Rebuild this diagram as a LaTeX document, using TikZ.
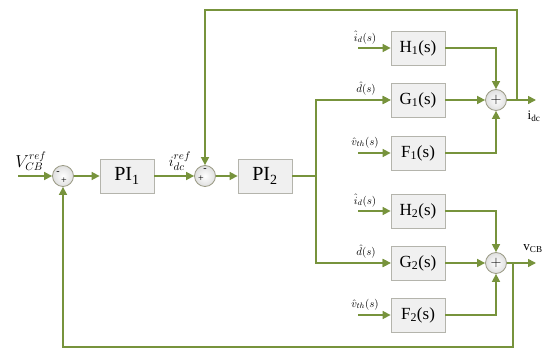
\documentclass[tikz,border=0pt]{standalone}
\usepackage{fontspec}
\setmainfont{Liberation Serif}
\usetikzlibrary{arrows.meta,calc}
\definecolor{lg}{HTML}{77933C}
\definecolor{bxfill}{HTML}{F0F0F0}
\definecolor{bxdraw}{HTML}{B4B4AC}
\definecolor{sumdraw}{HTML}{9A9A84}
\begin{document}
\begin{tikzpicture}[x=1pt,y=-1pt,
  blk/.style={draw=bxdraw, fill=bxfill, line width=0.8pt, minimum width=54pt, minimum height=34pt, inner sep=0pt, font=\fontsize{17}{17}\selectfont},
  pib/.style={blk, font=\fontsize{20}{20}\selectfont},
  sumc/.style={circle, draw=sumdraw, line width=0.8pt, inner color=white, outer color=gray!25, minimum size=21pt, inner sep=0pt},
  sig/.style={draw=lg, line width=1.6pt, -{Triangle[length=8pt,width=8pt]}},
  ln/.style={draw=lg, line width=1.6pt},
  lab/.style={font=\fontsize{11}{11}\selectfont, inner sep=0pt, anchor=south},
  sgn/.style={font=\fontsize{10}{10}\selectfont, inner sep=0pt}]
\useasboundingbox (0,0) rectangle (543,352);

% nodes
\node[sumc] (s1) at (63,176) {};
\node[pib] (pi1) at (127,176) {PI\textsubscript{1}};
\node[sumc] (s2) at (205,176) {};
\node[pib] (pi2) at (265,176) {PI\textsubscript{2}};
\coordinate (br) at (316,176);

\node[blk] (h1) at (418,48) {H\textsubscript{1}(s)};
\node[blk] (g1) at (418,100) {G\textsubscript{1}(s)};
\node[blk] (f1) at (418,153) {F\textsubscript{1}(s)};
\node[sumc] (s3) at (496,100) {\fontsize{15}{15}\selectfont$+$};

\node[blk] (h2) at (418,211) {H\textsubscript{2}(s)};
\node[blk] (g2) at (418,263) {G\textsubscript{2}(s)};
\node[blk] (f2) at (418,315) {F\textsubscript{2}(s)};
\node[sumc] (s4) at (496,263) {\fontsize{15}{15}\selectfont$+$};

% signs
\node[sgn] at ($(s1)+(-5,-3)$) {-};
\node[sgn] at ($(s1)+(1,5)$) {+};
\node[sgn] at ($(s2)+(0,-6)$) {-};
\node[sgn] at ($(s2)+(-4,3)$) {+};

% inputs
\coordinate (vin) at (18,176);
\node[font=\fontsize{16}{16}\selectfont, inner sep=0pt] (vref) at (31,161) {$V_{CB}^{ref}$};
\node[font=\fontsize{15}{15}\selectfont, inner sep=0pt] (iref) at (180,161) {$i_{dc}^{ref}$};

\coordinate (ih1) at (358,48);
\coordinate (ig1) at (358,100);
\coordinate (if1) at (358,153);
\coordinate (ih2) at (358,211);
\coordinate (ig2) at (358,263);
\coordinate (if2) at (358,315);
\node[lab] (lh1) at (365,44) {$\hat{i}_d(s)$};
\node[lab] (lg1) at (366,95) {$\hat{d}(s)$};
\node[lab] (lf1) at (365,148) {$\hat{v}_{th}(s)$};
\node[lab] (lh2) at (365,207) {$\hat{i}_d(s)$};
\node[lab] (lg2) at (366,258) {$\hat{d}(s)$};
\node[lab] (lf2) at (365,310) {$\hat{v}_{th}(s)$};

% outputs
\coordinate (o1) at (536,100);
\coordinate (o2) at (536,263);
\coordinate (t1) at (517,100);
\coordinate (tc) at (517,10);
\coordinate (b1) at (513,263);
\coordinate (bc) at (513,347);
\node[font=\fontsize{13}{13}\selectfont, inner sep=0pt] (lidc) at (534,116) {i\textsubscript{dc}};
\node[font=\fontsize{13}{13}\selectfont, inner sep=0pt] (lvcb) at (533,249) {v\textsubscript{CB}};

% connectors
\draw[sig] (vin) -- (s1);
\draw[sig] (s1) -- (pi1);
\draw[sig] (pi1) -- (s2);
\draw[sig] (s2) -- (pi2);
\draw[ln] (pi2) -- (br);
\draw[sig] (br) |- (g1);
\draw[sig] (br) |- (g2);

\draw[sig] (ih1) -- (h1);
\draw[sig] (ig1) -- (g1);
\draw[sig] (if1) -- (f1);
\draw[sig] (ih2) -- (h2);
\draw[sig] (ig2) -- (g2);
\draw[sig] (if2) -- (f2);

\draw[sig] (h1) -| (s3);
\draw[sig] (g1) -- (s3);
\draw[sig] (f1) -| (s3);
\draw[sig] (h2) -| (s4);
\draw[sig] (g2) -- (s4);
\draw[sig] (f2) -| (s4);

\draw[sig] (s3) -- (o1);
\draw[sig] (s4) -- (o2);
\draw[sig] (t1) -- (tc) -| (s2.north);
\draw[sig] (b1) -- (bc) -| (s1.south);
\end{tikzpicture}
\end{document}
